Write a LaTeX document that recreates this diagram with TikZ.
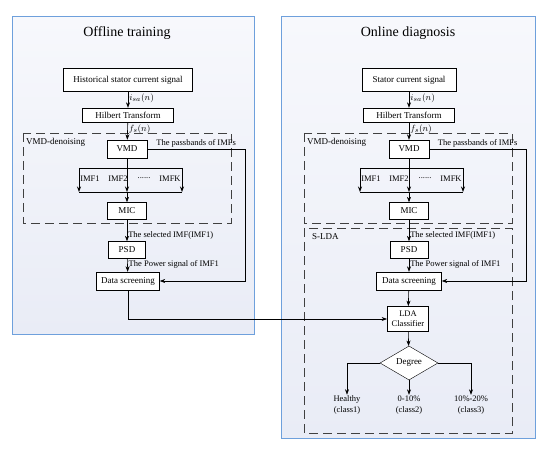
\documentclass[tikz,border=0pt]{standalone}
\usepackage{fontspec}
\setmainfont{Liberation Serif}
\usetikzlibrary{shapes.geometric, arrows.meta}
\definecolor{panelline}{RGB}{110,160,220}
\definecolor{paneltop}{RGB}{247,248,252}
\definecolor{panelbot}{RGB}{233,236,246}
\begin{document}
\begin{tikzpicture}[x=1pt, y=-1pt,
    panel/.style={draw=panelline, line width=1pt, top color=paneltop, bottom color=panelbot},
    title/.style={font=\fontsize{14}{16}\selectfont},
    proc/.style={draw, fill=white, inner sep=1pt, align=center, font=\fontsize{9}{10.5}\selectfont},
    zone/.style={draw=black!75, line width=0.7pt, dash pattern=on 9pt off 5pt},
    tag/.style={inner sep=1pt, font=\fontsize{8.5}{10}\selectfont},
    res/.style={inner sep=1pt, align=center, font=\fontsize{8.5}{10.5}\selectfont},
    arr/.style={->, >={Stealth[length=5.5pt, width=4pt]}, line width=0.6pt},
    ln/.style={line width=0.6pt}
]
\useasboundingbox (0,0) rectangle (550,452);

% panels
\draw[panel] (12,17) rectangle (254,334);
\draw[panel] (281,17) rectangle (535,438);
\node[title] (ttl1) at (127,33) {Offline training};
\node[title] (ttl2) at (408,33) {Online diagnosis};

% dashed zones
\draw[zone] (23,133) rectangle (231,223);
\draw[zone] (304,133) rectangle (512,223);
\draw[zone] (304,228) rectangle (512,433);
\node[tag, anchor=west, font=\fontsize{9}{10}\selectfont] (zn1) at (25,142) {VMD-denoising};
\node[tag, anchor=west, font=\fontsize{9}{10}\selectfont] (zn2) at (306,142) {VMD-denoising};
\node[tag, anchor=west, font=\fontsize{9}{10}\selectfont] (zn3) at (311,237) {S-LDA};

% offline side
\node[proc, minimum width=129, minimum height=23] (src1) at (128,80) {Historical stator current signal};
\node[proc, minimum width=91, minimum height=14] (hil1) at (128,115) {Hilbert Transform};
\node[proc, minimum width=40, minimum height=18] (vmd1) at (127,149) {VMD};
\node[proc, minimum width=39, minimum height=17] (mic1) at (127,211) {MIC};
\node[proc, minimum width=37, minimum height=17] (psd1) at (127,250) {PSD};
\node[proc, minimum width=63, minimum height=18] (ds1) at (128,281) {Data screening};

% online side
\node[proc, minimum width=94, minimum height=23] (src2) at (409,80) {Stator current signal};
\node[proc, minimum width=91, minimum height=14] (hil2) at (409,115) {Hilbert Transform};
\node[proc, minimum width=40, minimum height=18] (vmd2) at (409,149) {VMD};
\node[proc, minimum width=39, minimum height=17] (mic2) at (409,211) {MIC};
\node[proc, minimum width=38, minimum height=17] (psd2) at (409,250) {PSD};
\node[proc, minimum width=65, minimum height=18] (ds2) at (409,281) {Data screening};
\node[proc, line width=0.8pt, minimum width=41, minimum height=25, font=\fontsize{8.5}{10}\selectfont] (lda) at (408,319) {LDA\\Classifier};
\node[proc, diamond, minimum width=58, minimum height=34, inner sep=0pt] (deg) at (409,363) {Degree};
\node[res] (cls1) at (347,405) {Healthy\\(class1)};
\node[res] (cls2) at (409,405) {0-10\%\\(class2)};
\node[res] (cls3) at (471,405) {10\%-20\%\\(class3)};

% IMF labels
\node[tag] (imfa1) at (90,179) {IMF1};
\node[tag] (imfb1) at (118,179) {IMF2};
\node[tag] (imfc1) at (144,178) {......};
\node[tag] (imfd1) at (170,179) {IMFK};
\node[tag] (imfa2) at (371,179) {IMF1};
\node[tag] (imfb2) at (399,179) {IMF2};
\node[tag] (imfc2) at (425,178) {......};
\node[tag] (imfd2) at (451,179) {IMFK};

% bar ends
\coordinate (ta1) at (79,168);  \coordinate (tb1) at (182,168);
\coordinate (ua1) at (79,192);  \coordinate (ub1) at (182,192);
\coordinate (um1) at (127,192);
\coordinate (ta2) at (360,168); \coordinate (tb2) at (463,168);
\coordinate (ua2) at (360,192); \coordinate (ub2) at (463,192);
\coordinate (um2) at (409,192);
\coordinate (pb1) at (245,149);
\coordinate (pb2) at (526,149);

% offline flow
\draw[arr] (src1) -- node[tag, right, pos=0.4, font=\fontsize{9.5}{10}\selectfont] {$i_{sa}(n)$} (hil1);
\draw[arr] (hil1) -- node[tag, right, pos=0.4, font=\fontsize{9.5}{10}\selectfont] {$f_{s}(n)$} (vmd1);
\draw[ln] (ta1) -- (tb1);
\draw[arr] (ta1) -- (ua1);
\draw[arr] (tb1) -- (ub1);
\draw[arr] (vmd1) -- (um1);
\draw[ln] (ua1) -- (ub1);
\draw[arr] (um1) -- (mic1);
\draw[arr] (mic1) -- node[tag, right, pos=0.75] {The selected IMF(IMF1)} (psd1);
\draw[arr] (psd1) -- node[tag, right, pos=0.4] {The Power signal of IMF1} (ds1);
\draw[arr] (vmd1.east) -- node[tag, above, pos=0.5] {The passbands of IMFs} (pb1) |- (ds1.east);
\draw[arr] (ds1.south) |- (lda.west);

% online flow
\draw[arr] (src2) -- node[tag, right, pos=0.4, font=\fontsize{9.5}{10}\selectfont] {$i_{sa}(n)$} (hil2);
\draw[arr] (hil2) -- node[tag, right, pos=0.4, font=\fontsize{9.5}{10}\selectfont] {$f_{s}(n)$} (vmd2);
\draw[ln] (ta2) -- (tb2);
\draw[arr] (ta2) -- (ua2);
\draw[arr] (tb2) -- (ub2);
\draw[arr] (vmd2) -- (um2);
\draw[ln] (ua2) -- (ub2);
\draw[arr] (um2) -- (mic2);
\draw[arr] (mic2) -- node[tag, right, pos=0.75] {The selected IMF(IMF1)} (psd2);
\draw[arr] (psd2) -- node[tag, right, pos=0.4] {The Power signal of IMF1} (ds2);
\draw[arr] (vmd2.east) -- node[tag, above, pos=0.5] {The passbands of IMFs} (pb2) |- (ds2.east);
\draw[arr] (ds2) -- (lda);
\draw[arr] (lda) -- (deg);
\draw[arr] (deg.west) -| (cls1.north);
\draw[arr] (deg.south) -- (cls2.north);
\draw[arr] (deg.east) -| (cls3.north);
\end{tikzpicture}
\end{document}
